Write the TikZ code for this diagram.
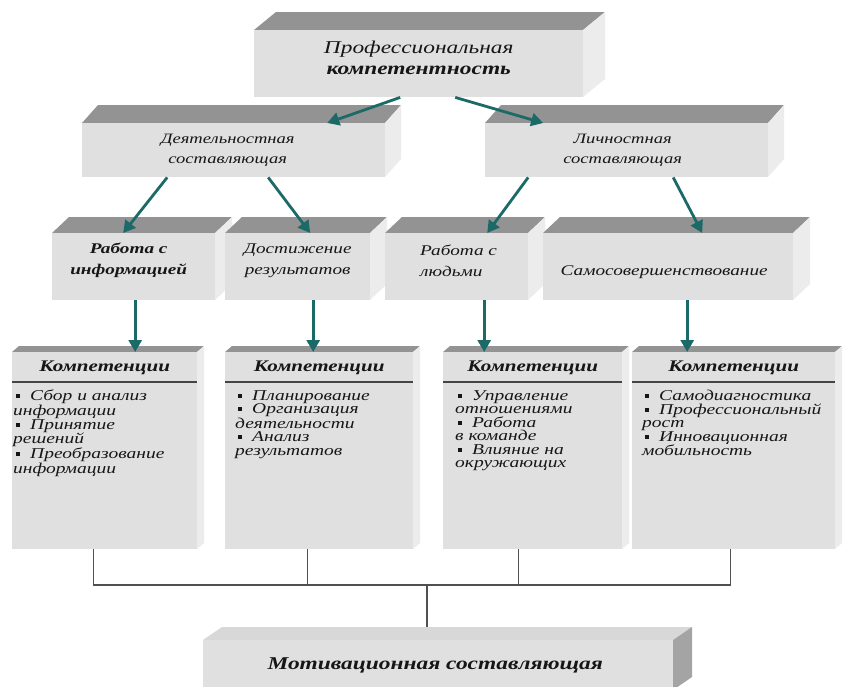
\documentclass[tikz,border=0pt]{standalone}
\usepackage{fontspec}
\setmainfont[FakeStretch=1.3]{Liberation Serif}
\newfontfamily\listfont[FakeStretch=1.3]{Liberation Serif}
\usetikzlibrary{arrows.meta,calc}

\definecolor{frontc}{HTML}{E0E0E0}
\definecolor{topdarkc}{HTML}{939393}
\definecolor{sidelightc}{HTML}{ECECEC}
\definecolor{toplightc}{HTML}{D8D8D8}
\definecolor{sidedarkc}{HTML}{A4A4A4}
\definecolor{arrowc}{HTML}{1C6A68}
\definecolor{inkc}{HTML}{161616}
\definecolor{busc}{HTML}{505050}

\tikzset{
  face/.style={fill=frontc, draw=none, inner sep=0pt, anchor=north west},
  topdark/.style={fill=topdarkc},
  sidelight/.style={fill=sidelightc},
  toplight/.style={fill=toplightc},
  sidedark/.style={fill=sidedarkc},
  txt/.style={inner sep=0pt, text=inkc, align=center},
  head/.style={txt, font=\itshape\fontsize{18}{21}\selectfont},
  sub/.style={txt, font=\itshape\fontsize{14.3}{20}\selectfont},
  area/.style={txt, font=\itshape\fontsize{14.8}{21}\selectfont},
  ktitle/.style={txt, font=\bfseries\itshape\fontsize{16.2}{20}\selectfont},
  klist/.style={inner sep=0pt, text=inkc, align=left, anchor=north west,
    font=\listfont\itshape\fontsize{15}{13.5}\selectfont},
  flow/.style={draw=arrowc, line width=2.8pt, -{Triangle[length=12pt,width=13pt]}},
  bus/.style={draw=busc, line width=1.4pt},
  divider/.style={draw=inkc!80, line width=1.2pt},
}

% extruded block: name, x1, y1, x2, y2 of the front face, depth dx, dy, top style, side style
\newcommand\solidblock[9]{%
  \fill[#8] (#2,#3) -- (#2+#6,#3-#7) -- (#4+#6,#3-#7) -- (#4,#3) -- cycle;
  \fill[#9] (#4,#3) -- (#4+#6,#3-#7) -- (#4+#6,#5-#7) -- (#4,#5) -- cycle;
  \node[face, minimum width={#4-#2}, minimum height={#5-#3}] (#1) at (#2,#3) {};
}
\newcommand\blt{\hspace{3pt}\rule[2.5pt]{4pt}{4pt}\hspace{10pt}}

\begin{document}
\begin{tikzpicture}[x=1pt,y=-1pt]
  \fill[white] (0,0) rectangle (848,686);
  \useasboundingbox (0,0) rectangle (848,686);

  % top level
  \solidblock{prof}{254}{30}{583}{97}{22}{18}{topdark}{sidelight}
  \node[head] (profT) at ([yshift=6pt]prof.center)
    {Профессиональная\\\textbf{компетентность}};

  % two components
  \solidblock{deyat}{82}{123}{385}{177}{16}{18}{topdark}{sidelight}
  \node[sub] (deyatT) at ([xshift=-6pt]deyat.center) {Деятельностная\\составляющая};
  \solidblock{lichn}{485}{123}{768}{177}{16}{18}{topdark}{sidelight}
  \node[sub] (lichnT) at ([xshift=-4pt]lichn.center) {Личностная\\составляющая};

  % four areas
  \solidblock{rinf}{52}{233}{215}{300}{17}{16}{topdark}{sidelight}
  \node[area] (rinfT) at ([xshift=-5pt,yshift=6pt]rinf.center)
    {\textbf{Работа с}\\\textbf{информацией}};
  \solidblock{dost}{225}{233}{370}{300}{17}{16}{topdark}{sidelight}
  \node[area] (dostT) at ([yshift=6pt]dost.center) {Достижение\\результатов};
  \solidblock{rlyud}{385}{233}{528}{300}{17}{16}{topdark}{sidelight}
  \node[area, align=left, anchor=west] (rlyudT) at ([xshift=35pt,yshift=6pt]rlyud.west)
    {Работа с\\людьми};
  \solidblock{samo}{543}{233}{793}{300}{17}{16}{topdark}{sidelight}
  \node[area] (samoT) at ([xshift=-4pt,yshift=-5.5pt]samo.center) {Самосовершенствование};

  % competence cards
  \solidblock{kA}{12}{352}{197}{549}{7}{6}{topdark}{sidelight}
  \solidblock{kB}{225}{352}{413}{549}{7}{6}{topdark}{sidelight}
  \solidblock{kC}{443}{352}{622}{549}{7}{6}{topdark}{sidelight}
  \solidblock{kD}{632}{352}{835}{549}{7}{6}{topdark}{sidelight}
  \foreach \k in {kA,kB,kC,kD}{
    \node[ktitle] (\k T) at ([yshift=-16pt]\k.north) {Компетенции};
    \draw[divider] ([yshift=-30pt]\k.north west) -- ([yshift=-30pt]\k.north east);
  }
  \node[klist] (kAL) at ([xshift=1pt,yshift=-38pt]kA.north west)
    {\blt Сбор и анализ\\информации\\\blt Принятие\\решений\\\blt Преобразование\\информации};
  \node[klist] (kBL) at ([xshift=10pt,yshift=-38pt]kB.north west)
    {\blt Планирование\\\blt Организация\\деятельности\\\blt Анализ\\результатов};
  \node[klist] (kCL) at ([xshift=12pt,yshift=-38pt]kC.north west)
    {\blt Управление\\отношениями\\\blt Работа\\в команде\\\blt Влияние на\\окружающих};
  \node[klist] (kDL) at ([xshift=10pt,yshift=-38pt]kD.north west)
    {\blt Самодиагностика\\\blt Профессиональный\\рост\\\blt Инновационная\\мобильность};

  % motivation block
  \solidblock{motiv}{203}{640}{673}{690}{19}{13}{toplight}{sidedark}
  \node[txt, font=\bfseries\itshape\fontsize{18}{22}\selectfont] (motivT)
    at ([xshift=-3pt]motiv.center) {Мотивационная составляющая};

  % arrows
  \draw[flow] ([xshift=-18.5pt]prof.south) -- ([xshift=93.5pt]deyat.north);
  \draw[flow] ([xshift=36.5pt]prof.south) -- ([xshift=-83.5pt]lichn.north);
  \draw[flow] ([xshift=-66.5pt]deyat.south) -- ([xshift=-10.5pt]rinf.north);
  \draw[flow] ([xshift=34.5pt]deyat.south) -- ([xshift=12.5pt]dost.north);
  \draw[flow] ([xshift=-98.5pt]lichn.south) -- ([xshift=30.5pt]rlyud.north);
  \draw[flow] ([xshift=46.5pt]lichn.south) -- ([xshift=34pt]samo.north);
  \draw[flow] ([xshift=1.5pt]rinf.south) -- ([xshift=30.5pt]kA.north);
  \draw[flow] ([xshift=15.5pt]dost.south) -- ([xshift=-6pt]kB.north);
  \draw[flow] ([xshift=27.5pt]rlyud.south) -- ([xshift=-48.5pt]kC.north);
  \draw[flow] ([xshift=19pt]samo.south) -- ([xshift=-46.5pt]kD.north);

  % collecting lines
  \coordinate (hub) at (427,585);
  \coordinate (mtop) at ([yshift=13pt]motiv.north);
  \draw[bus] ([xshift=-11.5pt]kA.south) |- (hub) -| ([xshift=-3.5pt]kD.south);
  \draw[bus] ([xshift=-12pt]kB.south) |- (hub);
  \draw[bus] ([xshift=-14.5pt]kC.south) |- (hub);
  \draw[bus] (hub) -- (hub |- mtop);
\end{tikzpicture}
\end{document}
